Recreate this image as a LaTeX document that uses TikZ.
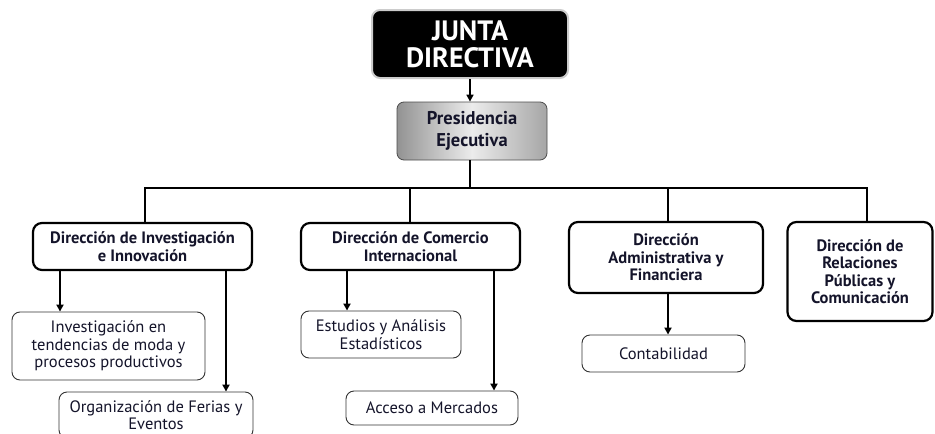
\documentclass[tikz,border=0pt]{standalone}
\usepackage{fontspec}
\setmainfont{PT Sans}
\usetikzlibrary{arrows.meta,shadows}
\definecolor{txt}{HTML}{14142A}
\tikzset{
  x=1pt, y=-1pt,
  mainbox/.style={draw=black, line width=2.2pt, rounded corners=9pt, fill=white,
    align=center, font=\bfseries\fontsize{16.5}{17.5}\selectfont, text=txt, inner sep=1pt},
  subbox/.style={draw=black!80, line width=0.9pt, rounded corners=8pt, fill=white,
    align=center, font=\fontsize{16.5}{17.5}\selectfont, text=txt, inner sep=1pt},
  conn/.style={line width=1.6pt, black},
  arr/.style={line width=2pt, black, -{Triangle[length=7pt,width=7pt]}}
}
\begin{document}
\begin{tikzpicture}
\useasboundingbox (0,0) rectangle (935,434);
\clip (0,0) rectangle (935,434);
% top
\node[draw=gray!40, line width=2pt, fill=black, rounded corners=8pt,
  minimum width=196pt, minimum height=68pt, align=center, text=white, inner sep=1pt,
  font=\bfseries\fontsize{28}{27}\selectfont] (junta) at (470,44) {JUNTA\\DIRECTIVA};
\node[draw=black!70, line width=0.8pt, rounded corners=7pt,
  left color=gray!85, right color=gray!70, middle color=gray!15,
  minimum width=150pt, minimum height=58pt, align=center, text=txt, inner sep=1pt,
  font=\bfseries\fontsize{18.5}{22}\selectfont] (pres) at (472,131) {Presidencia\\Ejecutiva};
\coordinate (bus) at (470,188);
% main boxes
\node[mainbox, minimum width=219pt, minimum height=47pt] (b1) at (142.5,246.5) {Dirección de Investigación\\e Innovación};
\node[mainbox, minimum width=219pt, minimum height=47pt] (b2) at (410.5,246.5) {Dirección de Comercio\\Internacional};
\node[mainbox, minimum width=194pt, minimum height=71pt] (b3) at (666,257.5) {Dirección\\Administrativa y\\Financiera};
\node[mainbox, minimum width=145pt, minimum height=99pt] (b4) at (860,271.5) {Dirección de\\Relaciones\\Públicas y\\Comunicación};
% sub boxes
\node[subbox, minimum width=193pt, minimum height=68pt] (s1) at (108.5,346) {Investigación en\\tendencias de moda y\\procesos productivos};
\node[subbox, minimum width=194pt, minimum height=46pt] (s2) at (156,415) {Organización de Ferias y\\Eventos};
\node[subbox, minimum width=160pt, minimum height=47pt] (s3) at (381,334.5) {Estudios y Análisis\\Estadísticos};
\node[subbox, minimum width=172pt, minimum height=34pt] (s4) at (432,408) {Acceso a Mercados};
\node[subbox, minimum width=163pt, minimum height=37pt] (s5) at (663.5,353.5) {Contabilidad};
% connectors
\draw[arr, line width=1.6pt] (junta.south) -- (junta.south |- pres.north);
\draw[conn] (pres.south -| bus) -- (bus);
\draw[conn] (b1.north -| 145,0) -- (bus -| 145,0) -- (bus -| 867,0) -- (b4.north -| 867,0);
\draw[conn] (b2.north -| 410,0) -- (bus -| 410,0);
\draw[conn] (b3.north -| 668,0) -- (bus -| 668,0);
\draw[arr] (b1.south -| 60,0) -- (s1.north -| 60,0);
\draw[arr] (b1.south -| 226,0) -- (s2.north -| 226,0);
\draw[arr] (b2.south -| 347,0) -- (s3.north -| 347,0);
\draw[arr] (b2.south -| 494,0) -- (s4.north -| 494,0);
\draw[arr] (b3.south -| 668,0) -- (s5.north -| 668,0);
\end{tikzpicture}
\end{document}
